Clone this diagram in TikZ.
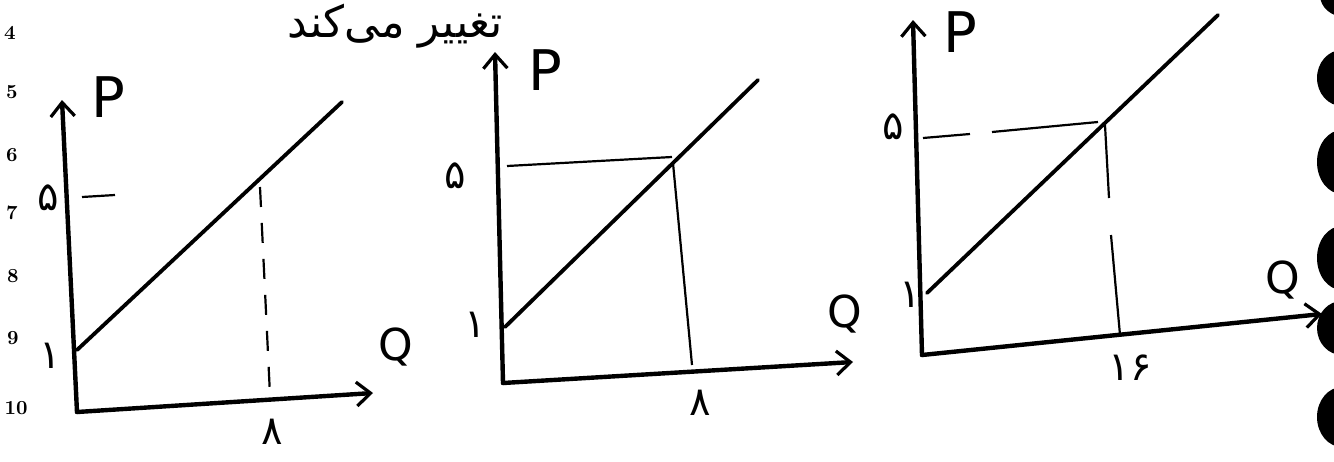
\documentclass[tikz,border=0pt]{standalone}
\usepackage{fontspec}
\TeXXeTstate=1
\newfontfamily\arabicfont[Script=Arabic]{DejaVu Sans}
\newfontfamily\digitfont{DejaVu Sans}
\usetikzlibrary{arrows.meta}
\begin{document}
\begin{tikzpicture}[x=0.5pt,y=-0.5pt,
  axis/.style={line width=2.2pt, line cap=round,
    -{Straight Barb[length=7pt,width=12pt,line width=1.6pt]}},
  supply/.style={line width=1.9pt, line cap=round},
  guide/.style={line width=1.1pt},
  dashguide/.style={line width=1.1pt, dash pattern=on 10pt off 8pt},
  axlbl/.style={inner sep=0pt, font=\digitfont\fontsize{28}{28}\selectfont},
  qlbl/.style={inner sep=0pt, font=\digitfont\fontsize{22}{22}\selectfont},
  numlbl/.style={inner sep=0pt, font=\digitfont\fontsize{20}{20}\selectfont},
  margin/.style={inner sep=0pt, font=\bfseries\fontsize{10}{10}\selectfont},
  hole/.style={fill=black}
]
\useasboundingbox (0,0) rectangle (1334,461);
\clip (0,0) rectangle (1334,461);

% handwriting at the top
\node[inner sep=0pt, anchor=base, font=\arabicfont\fontsize{22}{22}\selectfont] (toptext) at (395,37) {\beginR تغییر می‌کند\endR};

% notebook margin numbers
\node[margin] (m4) at (10,33) {4};
\node[margin] (m5) at (12,92) {5};
\node[margin] (m6) at (12,155) {6};
\node[margin] (m7) at (12,213) {7};
\node[margin] (m8) at (13,276) {8};
\node[margin] (m9) at (13,338) {9};
\node[margin] (m10) at (16,408) {10};

% binder holes on the right edge
\fill[hole] (1345,-5) ellipse (25 and 22);
\fill[hole] (1342,78) ellipse (25 and 28);
\fill[hole] (1342,162) ellipse (25 and 32);
\fill[hole] (1342,258) ellipse (25 and 32);
\fill[hole] (1342,328) ellipse (25 and 27);
\fill[hole] (1342,417) ellipse (25 and 30);

% ---------- graph 1 ----------
\coordinate (O1) at (77,412);
\coordinate (Y1) at (62,100);
\coordinate (X1) at (373,393);
\coordinate (S1a) at (77,350);
\coordinate (S1b) at (342,102);
\coordinate (V1t) at (260,187);
\coordinate (V1b) at (270,395);
\coordinate (T1a) at (82,197);
\coordinate (T1b) at (115,195);
\draw[axis] (O1) -- (Y1);
\draw[axis] (O1) -- (X1);
\draw[supply] (S1a) -- (S1b);
\draw[dashguide] (V1t) -- (V1b);
\draw[guide] (T1a) -- (T1b);
\node[axlbl] (P1) at (108,97) {P};
\node[qlbl] (Q1) at (396,347) {Q};
\node[numlbl] (f1) at (48,198) {۵};
\node[numlbl] (o1) at (50,356) {۱};
\node[numlbl] (e1) at (272,432) {۸};

% ---------- graph 2 ----------
\coordinate (O2) at (503,383);
\coordinate (Y2) at (495,52);
\coordinate (X2) at (853,362);
\coordinate (S2a) at (505,327);
\coordinate (S2b) at (758,80);
\coordinate (H2a) at (507,166);
\coordinate (H2b) at (672,157);
\coordinate (V2t) at (673,163);
\coordinate (V2b) at (692,365);
\draw[axis] (O2) -- (Y2);
\draw[axis] (O2) -- (X2);
\draw[supply] (S2a) -- (S2b);
\draw[guide] (H2a) -- (H2b);
\draw[guide] (V2t) -- (V2b);
\node[axlbl] (P2) at (545,70) {P};
\node[qlbl] (Q2) at (845,314) {Q};
\node[numlbl] (f2) at (455,176) {۵};
\node[numlbl] (o2) at (475,325) {۱};
\node[numlbl] (e2) at (700,403) {۸};

% ---------- graph 3 ----------
\coordinate (O3) at (922,355);
\coordinate (Y3) at (913,20);
\coordinate (X3) at (1322,314);
\coordinate (S3a) at (927,293);
\coordinate (S3b) at (1218,15);
\coordinate (H3a) at (923,138);
\coordinate (H3g1) at (970,134);
\coordinate (H3g2) at (992,132);
\coordinate (H3b) at (1098,122);
\coordinate (V3t) at (1105,125);
\coordinate (V3g1) at (1109,198);
\coordinate (V3g2) at (1111,235);
\coordinate (V3b) at (1120,335);
\draw[axis] (O3) -- (Y3);
\draw[axis] (O3) -- (X3);
\draw[supply] (S3a) -- (S3b);
\draw[guide] (H3a) -- (H3g1);
\draw[guide] (H3g2) -- (H3b);
\draw[guide] (V3t) -- (V3g1);
\draw[guide] (V3g2) -- (V3b);
\node[axlbl] (P3) at (960,32) {P};
\node[qlbl] (Q3) at (1283,280) {Q};
\node[numlbl] (f3) at (893,127) {۵};
\node[numlbl] (o3) at (910,295) {۱};
\node[numlbl] (s3) at (1130,368) {۱۶};
\end{tikzpicture}
\end{document}
